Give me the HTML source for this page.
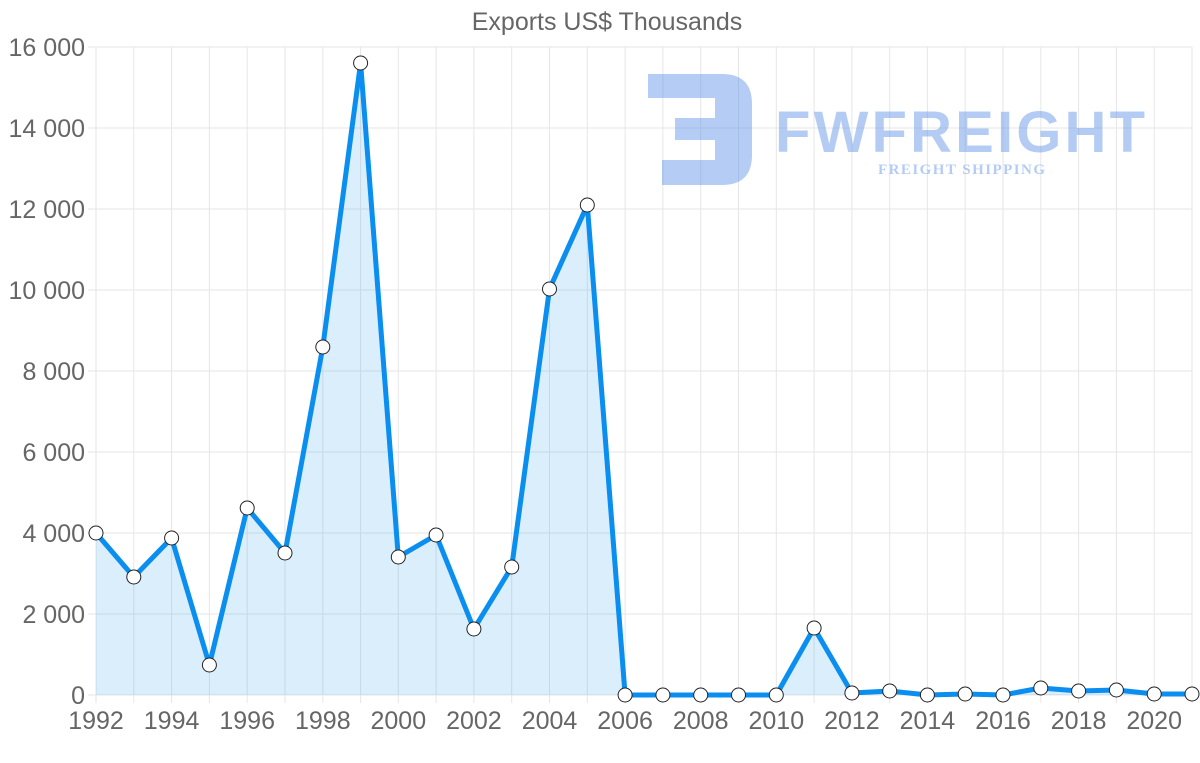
<!DOCTYPE html>
<html><head><meta charset="utf-8"><style>
html,body{margin:0;padding:0;background:#fff;}
svg{display:block;font-family:"Liberation Sans",sans-serif;}
</style></head><body>
<svg width="1200" height="763" viewBox="0 0 1200 763" xmlns="http://www.w3.org/2000/svg">
<text x="607" y="30" text-anchor="middle" font-size="25" fill="#666">Exports US$ Thousands</text>
<g stroke="#e6e6e6" stroke-width="1">
<line x1="96" y1="47" x2="96" y2="703"/><line x1="133.8" y1="47" x2="133.8" y2="703"/><line x1="171.6" y1="47" x2="171.6" y2="703"/><line x1="209.4" y1="47" x2="209.4" y2="703"/><line x1="247.2" y1="47" x2="247.2" y2="703"/><line x1="285" y1="47" x2="285" y2="703"/><line x1="322.8" y1="47" x2="322.8" y2="703"/><line x1="360.6" y1="47" x2="360.6" y2="703"/><line x1="398.3" y1="47" x2="398.3" y2="703"/><line x1="436.1" y1="47" x2="436.1" y2="703"/><line x1="473.9" y1="47" x2="473.9" y2="703"/><line x1="511.7" y1="47" x2="511.7" y2="703"/><line x1="549.5" y1="47" x2="549.5" y2="703"/><line x1="587.3" y1="47" x2="587.3" y2="703"/><line x1="625.1" y1="47" x2="625.1" y2="703"/><line x1="662.9" y1="47" x2="662.9" y2="703"/><line x1="700.7" y1="47" x2="700.7" y2="703"/><line x1="738.5" y1="47" x2="738.5" y2="703"/><line x1="776.3" y1="47" x2="776.3" y2="703"/><line x1="814.1" y1="47" x2="814.1" y2="703"/><line x1="851.9" y1="47" x2="851.9" y2="703"/><line x1="889.7" y1="47" x2="889.7" y2="703"/><line x1="927.4" y1="47" x2="927.4" y2="703"/><line x1="965.2" y1="47" x2="965.2" y2="703"/><line x1="1003" y1="47" x2="1003" y2="703"/><line x1="1040.8" y1="47" x2="1040.8" y2="703"/><line x1="1078.6" y1="47" x2="1078.6" y2="703"/><line x1="1116.4" y1="47" x2="1116.4" y2="703"/><line x1="1154.2" y1="47" x2="1154.2" y2="703"/><line x1="1192" y1="47" x2="1192" y2="703"/>
<line x1="88" y1="695" x2="1192" y2="695"/><line x1="88" y1="614" x2="1192" y2="614"/><line x1="88" y1="533" x2="1192" y2="533"/><line x1="88" y1="452" x2="1192" y2="452"/><line x1="88" y1="371" x2="1192" y2="371"/><line x1="88" y1="290" x2="1192" y2="290"/><line x1="88" y1="209" x2="1192" y2="209"/><line x1="88" y1="128" x2="1192" y2="128"/><line x1="88" y1="47" x2="1192" y2="47"/>
</g>
<g font-size="25" fill="#666" text-anchor="end">
<text x="85" y="704">0</text><text x="85" y="623">2 000</text><text x="85" y="542">4 000</text><text x="85" y="461">6 000</text><text x="85" y="380">8 000</text><text x="85" y="299">10 000</text><text x="85" y="218">12 000</text><text x="85" y="137">14 000</text><text x="85" y="56">16 000</text>
</g>
<g font-size="25" fill="#666" text-anchor="middle">
<text x="96" y="729">1992</text><text x="171.6" y="729">1994</text><text x="247.2" y="729">1996</text><text x="322.8" y="729">1998</text><text x="398.3" y="729">2000</text><text x="473.9" y="729">2002</text><text x="549.5" y="729">2004</text><text x="625.1" y="729">2006</text><text x="700.7" y="729">2008</text><text x="776.3" y="729">2010</text><text x="851.9" y="729">2012</text><text x="927.4" y="729">2014</text><text x="1003" y="729">2016</text><text x="1078.6" y="729">2018</text><text x="1154.2" y="729">2020</text>
</g>
<g opacity="0.45" fill="#5b8fe6">
<path d="M648 74 H722 Q752 74 752 104 V155 Q752 185 722 185 H662 V160 H715 V140 H675 V118 H715 V98 H648 Z"/>
<text x="775" y="152" font-size="58" font-weight="bold" textLength="370">FWFREIGHT</text>
<text x="878" y="174" font-size="15" font-weight="bold" font-family="Liberation Serif,serif" textLength="167">FREIGHT SHIPPING</text>
</g>
<path fill="rgba(54,162,235,0.18)" d="M96 533 L133.8 577 L171.6 538 L209.4 665 L247.2 508 L285 553 L322.8 347 L360.6 63 L398.3 557 L436.1 535 L473.9 629 L511.7 567 L549.5 289 L587.3 205 L625.1 695 L662.9 695 L700.7 695 L738.5 695 L776.3 695 L814.1 628 L851.9 693 L889.7 691 L927.4 695 L965.2 694 L1003 695 L1040.8 688 L1078.6 691 L1116.4 690 L1154.2 694 L1192 694 L1192 695 L96 695 Z"/>
<path fill="none" stroke="#0a8ef0" stroke-width="5" stroke-linejoin="round" d="M96 533 L133.8 577 L171.6 538 L209.4 665 L247.2 508 L285 553 L322.8 347 L360.6 63 L398.3 557 L436.1 535 L473.9 629 L511.7 567 L549.5 289 L587.3 205 L625.1 695 L662.9 695 L700.7 695 L738.5 695 L776.3 695 L814.1 628 L851.9 693 L889.7 691 L927.4 695 L965.2 694 L1003 695 L1040.8 688 L1078.6 691 L1116.4 690 L1154.2 694 L1192 694"/>
<g fill="#fff" stroke="#222" stroke-width="1">
<circle cx="96" cy="533" r="7"/><circle cx="133.8" cy="577" r="7"/><circle cx="171.6" cy="538" r="7"/><circle cx="209.4" cy="665" r="7"/><circle cx="247.2" cy="508" r="7"/><circle cx="285" cy="553" r="7"/><circle cx="322.8" cy="347" r="7"/><circle cx="360.6" cy="63" r="7"/><circle cx="398.3" cy="557" r="7"/><circle cx="436.1" cy="535" r="7"/><circle cx="473.9" cy="629" r="7"/><circle cx="511.7" cy="567" r="7"/><circle cx="549.5" cy="289" r="7"/><circle cx="587.3" cy="205" r="7"/><circle cx="625.1" cy="695" r="7"/><circle cx="662.9" cy="695" r="7"/><circle cx="700.7" cy="695" r="7"/><circle cx="738.5" cy="695" r="7"/><circle cx="776.3" cy="695" r="7"/><circle cx="814.1" cy="628" r="7"/><circle cx="851.9" cy="693" r="7"/><circle cx="889.7" cy="691" r="7"/><circle cx="927.4" cy="695" r="7"/><circle cx="965.2" cy="694" r="7"/><circle cx="1003" cy="695" r="7"/><circle cx="1040.8" cy="688" r="7"/><circle cx="1078.6" cy="691" r="7"/><circle cx="1116.4" cy="690" r="7"/><circle cx="1154.2" cy="694" r="7"/><circle cx="1192" cy="694" r="7"/>
</g>
</svg>
</body></html>
